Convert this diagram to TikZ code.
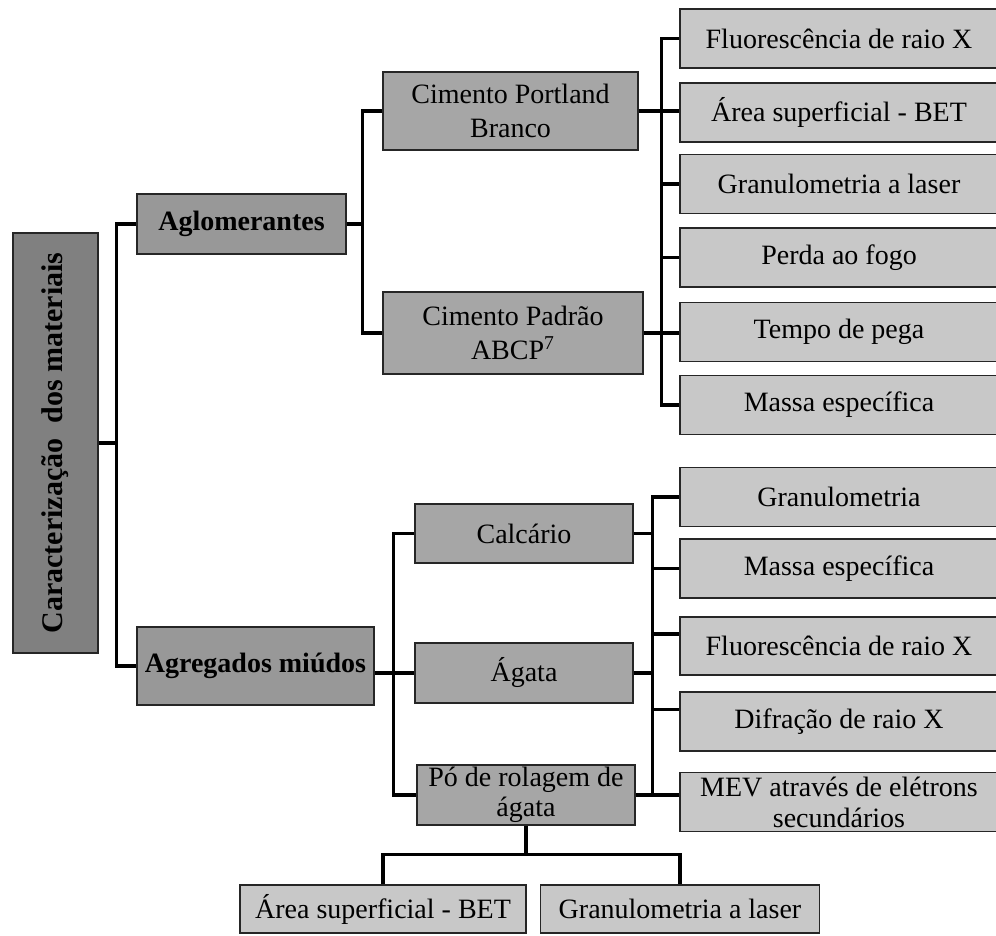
\documentclass[tikz,border=0pt]{standalone}
\usepackage{fontspec}
\setmainfont{Liberation Serif}
\usepackage{tikz}
\usepackage{xcolor}
\usetikzlibrary{positioning}
\definecolor{cRoot}{RGB}{128,128,128}
\definecolor{cGroup}{RGB}{152,152,152}
\definecolor{cSub}{RGB}{166,166,166}
\definecolor{cLeaf}{RGB}{200,200,200}
\tikzset{
	rootbox/.style ={rectangle, draw=black!85, line width=0.7pt, fill=cRoot, rotate=90, inner sep=0pt, minimum width=210pt, minimum height=42.5pt, font=\bfseries\fontsize{15}{18}\selectfont},
	grpbox/.style  ={rectangle, draw=black!85, line width=0.7pt, fill=cGroup, inner sep=0pt, minimum height=30pt, font=\bfseries\fontsize{14}{17}\selectfont},
	subbox/.style  ={rectangle, draw=black!85, line width=0.7pt, fill=cSub, inner sep=0pt, minimum width=109pt, minimum height=30pt, align=center, font=\fontsize{14}{17}\selectfont},
	leafbox/.style ={rectangle, draw=black!85, line width=0.7pt, fill=cLeaf, inner sep=0pt, minimum width=159pt, minimum height=29.5pt, align=center, font=\fontsize{14}{15.5}\selectfont},
	conn/.style    ={line width=1.6pt, black},
}
\begin{document}
\begin{tikzpicture}[x=0.5pt, y=-0.5pt]
	\clip (0,0) rectangle (996,936);
	% root and the two groups
	\node[rootbox] (root) at (55.5,443) {Caracterização \ dos materiais};
	\node[grpbox, minimum width=104.5pt] (aglo) at (241.5,224) {Aglomerantes};
	\node[grpbox, minimum width=118.5pt, minimum height=39pt] (agreg) at (255.5,666) {Agregados miúdos};
	% binders
	\node[subbox, minimum width=127.5pt, minimum height=39pt] (cpb) at (510.5,111) {Cimento Portland\\Branco};
	\node[subbox, minimum width=130pt, minimum height=41pt] (cpa) at (513,333) {Cimento Padrão\\ABCP\textsuperscript{7}};
	% fine aggregates
	\node[subbox, minimum height=29.5pt] (calc) at (524,533.5) {Calcário};
	\node[subbox] (agata) at (524,673) {Ágata};
	\node[subbox, font=\fontsize{14}{15}\selectfont] (po) at (526,795) {Pó de rolagem de\\ágata};
	% tests on binders
	\node[leafbox] (f1) at (839,38.5) {Fluorescência de raio X};
	\node[leafbox] (a1) at (839,112.5) {Área superficial - BET};
	\node[leafbox] (g1) at (839,184) {Granulometria a laser};
	\node[leafbox] (p1) at (839,257.5) {Perda ao fogo};
	\node[leafbox] (t1) at (839,332) {Tempo de pega};
	\node[leafbox] (m1) at (839,405) {Massa específica};
	% tests on aggregates
	\node[leafbox] (g2) at (839,497) {Granulometria};
	\node[leafbox] (m2) at (839,568.5) {Massa específica};
	\node[leafbox, minimum height=29pt] (f2) at (839,646) {Fluorescência de raio X};
	\node[leafbox] (d2) at (839,721.5) {Difração de raio X};
	\node[leafbox] (mev) at (839,802) {MEV através de elétrons\\secundários};
	\node[leafbox, minimum width=143pt, minimum height=24pt] (a3) at (383,909) {Área superficial - BET};
	\node[leafbox, minimum width=139.5pt, minimum height=24pt] (g3) at (680,909) {Granulometria a laser};
	% connectors, first level (root is turned, so its south side faces right)
	\draw[conn] (root.south) -- ++(18,0) coordinate (b0);
	\draw[conn] (aglo.west) -| (b0) |- (agreg.west);
	% binders
	\draw[conn] (aglo.east) -- ++(16,0) coordinate (b1);
	\draw[conn] (cpb.west) -| (b1) |- (cpa.west);
	\draw[conn] (f1.west) -- ++(-18,0) |- (m1.west);
	\foreach \n in {g1,p1} \draw[conn] (\n.west) -- ++(-18,0);
	\draw[conn] (cpb.east) -- (cpb.east -| a1.west);
	\draw[conn] (cpa.east) -- (cpa.east -| t1.west);
	% aggregates
	\draw[conn] (agata.west) -- (agata.west -| agreg.east);
	\draw[conn] (calc.west) -- ++(-21,0) |- (po.west);
	\draw[conn] (g2.west) -- ++(-27,0) |- (po.east);
	\draw[conn] (m2.west) -- ++(-27,0);
	\draw[conn] ([yshift=6pt]f2.west) -- ++(-27,0);
	\draw[conn] ([yshift=6pt]d2.west) -- ++(-27,0);
	\draw[conn] (calc.east) -- ++(20,0);
	\draw[conn] (agata.east) -- ++(20,0);
	\draw[conn] (po.east) -- (po.east -| mev.west);
	% powder tests
	\draw[conn] (po.south) -- ++(0,29) coordinate (b4);
	\draw[conn] (a3.north) |- (b4) -| (g3.north);
\end{tikzpicture}
\end{document}
